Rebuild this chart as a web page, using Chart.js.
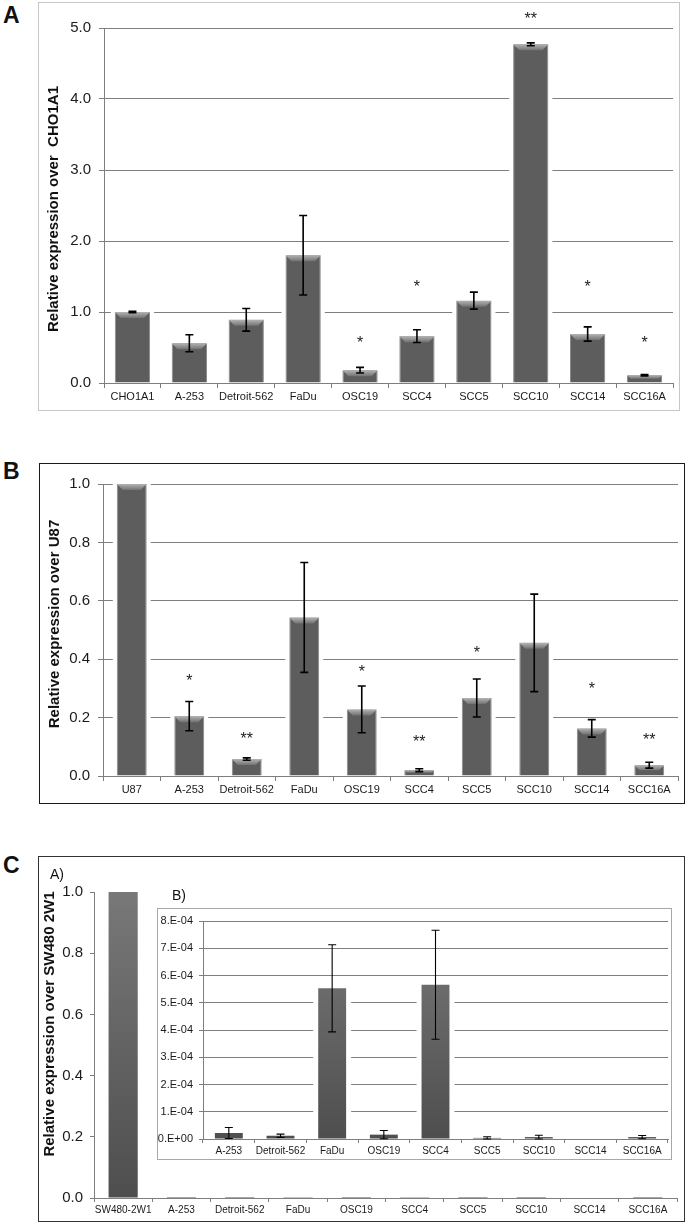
<!DOCTYPE html>
<html>
<head>
<meta charset="utf-8">
<script src="https://cdn.jsdelivr.net/npm/chart.js@4.4.1/dist/chart.umd.min.js"></script>
<style>
  body { margin:0; background:#fff; width:685px; height:1222px; position:relative; overflow:hidden;
         font-family:"Liberation Sans", Arial, sans-serif; color:#111; }
  .frame { position:absolute; box-sizing:border-box; }
  canvas { position:absolute; }
  .tag { position:absolute; font-weight:bold; font-size:23px; line-height:23px; }
  .sub { position:absolute; font-size:14px; line-height:14px; }
</style>
</head>
<body>

<!-- panel A -->
<div class="tag" style="left:3px;top:4px">A</div>
<div class="frame" style="left:38px;top:2px;width:642px;height:409px;border:1px solid #c6c6c6"></div>
<canvas id="chartA" width="642" height="409" style="left:38px;top:2px"></canvas>

<!-- panel B -->
<div class="tag" style="left:3px;top:460px">B</div>
<div class="frame" style="left:39px;top:463px;width:646px;height:341px;border:1.5px solid #1a1a1a"></div>
<canvas id="chartB" width="645" height="340" style="left:39px;top:463px"></canvas>

<!-- panel C -->
<div class="tag" style="left:3px;top:854px">C</div>
<div class="frame" style="left:38px;top:856px;width:647px;height:366px;border:1.5px solid #333"></div>
<canvas id="chartC" width="646" height="364" style="left:38px;top:856px"></canvas>
<div class="sub" style="left:50px;top:867px">A)</div>
<div class="sub" style="left:172px;top:888px">B)</div>
<div class="frame" style="left:157px;top:908px;width:515px;height:252px;border:1px solid #a8a8a8;background:#fff"></div>
<canvas id="chartInset" width="515" height="252" style="left:157px;top:908px"></canvas>

<script>
// ── data ─────────────────────────────────────────────────────────────
const catsA  = ["CHO1A1", "A-253", "Detroit-562", "FaDu", "OSC19", "SCC4", "SCC5", "SCC10", "SCC14", "SCC16A"];
const valsA  = [1.00, 0.56, 0.89, 1.80, 0.18, 0.66, 1.16, 4.77, 0.69, 0.11];
const errA   = [0.01, 0.12, 0.16, 0.56, 0.04, 0.09, 0.12, 0.02, 0.10, 0.01];
const starsA = ["", "", "", "", "*", "*", "", "**", "*", "*"];
const starAtA = [0, 0, 0, 0, 0.60, 1.38, 0, 5.16, 1.38, 0.60];
const ticksA = ["0.0", "1.0", "2.0", "3.0", "4.0", "5.0"];

const catsB  = ["U87", "A-253", "Detroit-562", "FaDu", "OSC19", "SCC4", "SCC5", "SCC10", "SCC14", "SCC16A"];
const valsB  = [1.00, 0.205, 0.058, 0.543, 0.228, 0.020, 0.267, 0.456, 0.163, 0.037];
const errB   = [0, 0.050, 0.004, 0.188, 0.080, 0.005, 0.065, 0.167, 0.030, 0.010];
const starsB = ["", "*", "**", "", "*", "**", "*", "", "*", "**"];
const starAtB = [0, 0.335, 0.135, 0, 0.363, 0.123, 0.430, 0, 0.306, 0.131];
const ticksB = ["0.0", "0.2", "0.4", "0.6", "0.8", "1.0"];

const catsInset = ["A-253", "Detroit-562", "FaDu", "OSC19", "SCC4", "SCC5", "SCC10", "SCC14", "SCC16A"];
const valsInset = [2.2e-5, 1.2e-5, 5.53e-4, 1.6e-5, 5.66e-4, 4e-6, 7e-6, 0, 7e-6];
const errInset  = [2.0e-5, 0.6e-5, 1.6e-4, 1.5e-5, 2.0e-4, 0.4e-5, 0.7e-5, 0, 0.6e-5];
const ticksInset = ["0.E+00", "1.E-04", "2.E-04", "3.E-04", "4.E-04", "5.E-04", "6.E-04", "7.E-04", "8.E-04"];

const catsC = ["SW480-2W1"].concat(catsInset);
const valsC = [1.0].concat(valsInset);
const ticksC = ["0.0", "0.2", "0.4", "0.6", "0.8", "1.0"];

const FONT = '"Liberation Sans", Arial, sans-serif';
const GRID = "#7e7e7e";

// ── decorations: white halo, bevel, error bars, stars, axis title ────
const decor = {
  id: "decor",
  beforeDatasetsDraw(chart, args, o) {
    if (!o.halo) return;
    const ctx = chart.ctx;
    ctx.save();
    ctx.fillStyle = "#fff";
    chart.getDatasetMeta(0).data.forEach(b => {
      if (b.base - b.y < 1) return;
      ctx.fillRect(b.x - b.width / 2 - o.halo, b.y - 2, b.width + 2 * o.halo, b.base - b.y + 1);
    });
    ctx.restore();
  },
  afterDatasetsDraw(chart, args, o) {
    const ctx = chart.ctx, meta = chart.getDatasetMeta(0), ys = chart.scales.y;
    const data = chart.data.datasets[0].data;
    ctx.save();
    if (o.bevel) {
      meta.data.forEach(b => {
        const h = Math.min(o.bevel, (b.base - b.y) / 2);
        if (h < 1) return;
        const l = b.x - b.width / 2, r = b.x + b.width / 2;
        const g = ctx.createLinearGradient(0, b.y, 0, b.y + h);
        g.addColorStop(0, "#b4b4b4");
        g.addColorStop(1, "#727272");
        ctx.fillStyle = g;
        ctx.beginPath();
        ctx.moveTo(l, b.y); ctx.lineTo(r, b.y);
        ctx.lineTo(r - h, b.y + h); ctx.lineTo(l + h, b.y + h);
        ctx.closePath(); ctx.fill();
      });
    }
    if (o.err) {
      ctx.strokeStyle = "#000";
      ctx.lineWidth = o.errWidth;
      meta.data.forEach((b, i) => {
        const e = o.err[i];
        if (!e) return;
        const hi = ys.getPixelForValue(data[i] + e);
        const lo = ys.getPixelForValue(Math.max(data[i] - e, 0));
        ctx.beginPath();
        ctx.moveTo(b.x, hi); ctx.lineTo(b.x, lo);
        ctx.moveTo(b.x - o.cap, hi); ctx.lineTo(b.x + o.cap, hi);
        ctx.moveTo(b.x - o.cap, lo); ctx.lineTo(b.x + o.cap, lo);
        ctx.stroke();
      });
    }
    if (o.stars) {
      ctx.font = "16px " + FONT;
      ctx.textAlign = "center";
      ctx.textBaseline = "middle";
      o.stars.forEach((s, i) => {
        if (!s) return;
        const x = meta.data[i].x, py = ys.getPixelForValue(o.starAt[i]);
        ctx.fillStyle = "#fff";
        ctx.fillRect(x - 16, py - 7, 32, 14);
        ctx.fillStyle = "#222";
        ctx.fillText(s, x, py + 3);
      });
    }
    ctx.restore();
  },
  afterDraw(chart, args, o) {
    if (!o.title) return;
    const ctx = chart.ctx;
    ctx.save();
    ctx.translate(o.tx, o.ty);
    ctx.rotate(-Math.PI / 2);
    ctx.font = "bold " + o.titleSize + "px " + FONT;
    ctx.fillStyle = "#111";
    ctx.textAlign = "center";
    ctx.textBaseline = "middle";
    ctx.fillText(o.title, 0, 0);
    ctx.restore();
  }
};

function makeChart(id, p) {
  return new Chart(document.getElementById(id), {
    type: "bar",
    data: {
      labels: p.labels,
      datasets: [{
        data: p.values,
        backgroundColor: p.fill,
        borderColor: p.edge || "rgba(0,0,0,0)",
        borderWidth: p.edge ? { left: 1, right: 1, top: 0, bottom: 0 } : 0,
        borderSkipped: "bottom",
        barPercentage: p.barPct,
        categoryPercentage: 1
      }]
    },
    options: {
      responsive: false,
      animation: false,
      events: [],
      layout: { padding: { left: 0, right: p.padR, top: p.padT, bottom: 0 } },
      plugins: {
        legend: { display: false },
        tooltip: { enabled: false },
        decor: p.decor
      },
      scales: {
        x: {
          offset: true,
          grid: { display: true, offset: true, drawOnChartArea: false, tickLength: p.tick, color: GRID },
          border: { color: GRID },
          ticks: { font: { family: FONT, size: p.xFont }, color: "#1a1a1a", padding: 2, maxRotation: 0, autoSkip: false },
          afterFit: s => { s.height = p.xH; }
        },
        y: {
          min: 0, max: p.max,
          ticks: {
            stepSize: p.step,
            font: { family: FONT, size: p.yFont },
            color: "#1a1a1a",
            padding: p.yPad,
            callback: (v, i) => p.tickLabels[i]
          },
          grid: { display: true, drawOnChartArea: p.gridOn, color: GRID, tickLength: p.tick },
          border: { color: GRID },
          afterFit: s => { s.width = p.yW; }
        }
      }
    },
    plugins: [decor]
  });
}

function greyFade(ctx) {
  const area = ctx.chart.chartArea;
  if (!area) return "#606060";
  const g = ctx.chart.ctx.createLinearGradient(0, area.top, 0, area.bottom);
  g.addColorStop(0, "#787878");
  g.addColorStop(1, "#4e4e4e");
  return g;
}

makeChart("chartA", {
  labels: catsA, values: valsA, fill: "#5d5d5d", edge: "#8a8a8a", barPct: 0.62,
  padR: 7, padT: 26, xH: 28, yW: 66, tick: 5, xFont: 11, yFont: 15, yPad: 8,
  max: 5, step: 1, tickLabels: ticksA, gridOn: true,
  decor: { halo: 4, bevel: 6, err: errA, errWidth: 1.6, cap: 4, stars: starsA, starAt: starAtA,
           title: "Relative expression over  CHO1A1", titleSize: 15, tx: 16, ty: 207 }
});

makeChart("chartB", {
  labels: catsB, values: valsB, fill: "#5d5d5d", edge: "#8a8a8a", barPct: 0.52,
  padR: 6, padT: 21, xH: 27, yW: 64, tick: 5, xFont: 11, yFont: 15, yPad: 8,
  max: 1, step: 0.2, tickLabels: ticksB, gridOn: true,
  decor: { halo: 4, bevel: 6, err: errB, errWidth: 1.6, cap: 4, stars: starsB, starAt: starAtB,
           title: "Relative expression over U87", titleSize: 15, tx: 16, ty: 161 }
});

makeChart("chartC", {
  labels: catsC, values: valsC, fill: greyFade, barPct: 0.5,
  padR: 7, padT: 36, xH: 22, yW: 56, tick: 4, xFont: 10, yFont: 15, yPad: 7,
  max: 1, step: 0.2, tickLabels: ticksC, gridOn: false,
  decor: { halo: 0, bevel: 0, title: "Relative expression over SW480 2W1", titleSize: 15, tx: 12, ty: 168 }
});

makeChart("chartInset", {
  labels: catsInset, values: valsInset, fill: greyFade, barPct: 0.54,
  padR: 4, padT: 13, xH: 21, yW: 46, tick: 4, xFont: 10, yFont: 11, yPad: 6,
  max: 8e-4, step: 1e-4, tickLabels: ticksInset, gridOn: true,
  decor: { halo: 5, bevel: 0, err: errInset, errWidth: 1.1, cap: 4 }
});
</script>
</body>
</html>
